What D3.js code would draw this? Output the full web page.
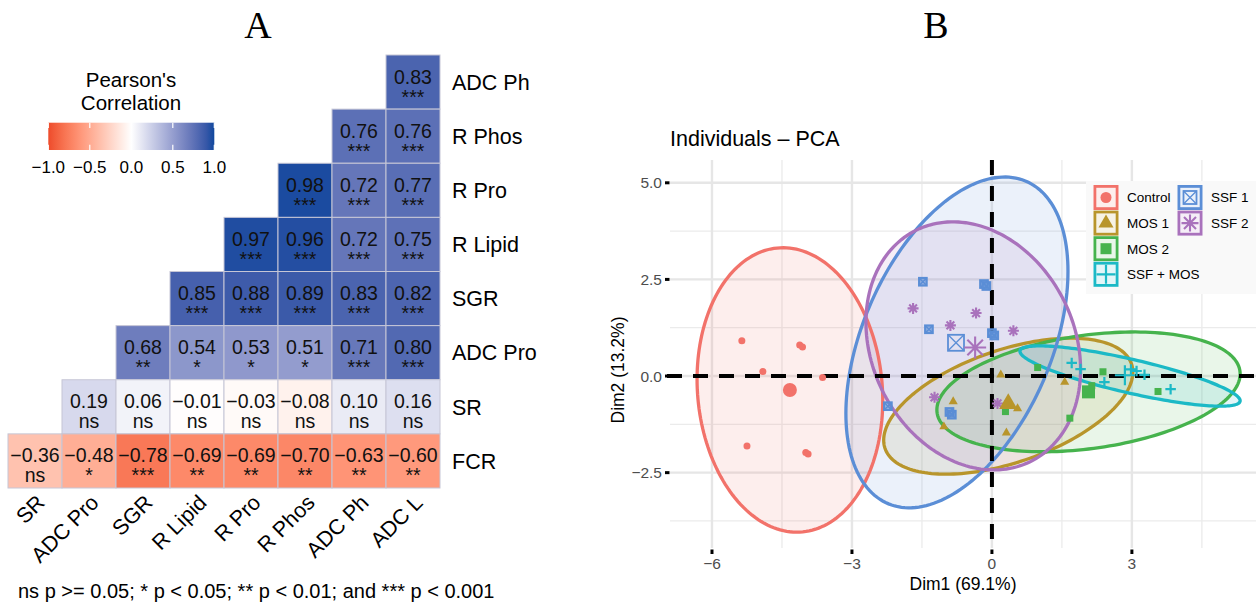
<!DOCTYPE html>
<html>
<head>
<meta charset="utf-8">
<script src="https://cdn.jsdelivr.net/npm/d3@7"></script>
<style>
  body { margin: 0; background: #fff; }
  svg { display: block; }
</style>
</head>
<body>
<div id="chart"></div>
<script>
//
// panel A data: correlation matrix (lower triangle, rows top to bottom)
//
var hmCols = ['SR', 'ADC Pro', 'SGR', 'R Lipid', 'R Pro', 'R Phos', 'ADC Ph', 'ADC L']
var hmRows = ['ADC Ph', 'R Phos', 'R Pro', 'R Lipid', 'SGR', 'ADC Pro', 'SR', 'FCR']
var corrR = [
  [0.83],
  [0.76, 0.76],
  [0.98, 0.72, 0.77],
  [0.97, 0.96, 0.72, 0.75],
  [0.85, 0.88, 0.89, 0.83, 0.82],
  [0.68, 0.54, 0.53, 0.51, 0.71, 0.80],
  [0.19, 0.06, -0.01, -0.03, -0.08, 0.10, 0.16],
  [-0.36, -0.48, -0.78, -0.69, -0.69, -0.70, -0.63, -0.60]
]
var corrSig = [
  ['***'],
  ['***', '***'],
  ['***', '***', '***'],
  ['***', '***', '***', '***'],
  ['***', '***', '***', '***', '***'],
  ['**', '*', '*', '*', '***', '***'],
  ['ns', 'ns', 'ns', 'ns', 'ns', 'ns', 'ns'],
  ['ns', '*', '***', '**', '**', '**', '**', '**']
]
var legendTicks = [-1, -0.5, 0, 0.5, 1]
var footnote = 'ns p >= 0.05; * p < 0.05; ** p < 0.01; and *** p < 0.001'

//
// panel B data: PCA individuals, [Dim1, Dim2]
//
var groups = ['Control', 'MOS 1', 'MOS 2', 'SSF + MOS', 'SSF 1', 'SSF 2']
var ptsControl = [[-5.36, 0.91], [-4.12, 0.80], [-4.06, 0.75], [-4.91, 0.12], [-3.63, -0.04], [-5.25, -1.81], [-3.99, -1.98], [-3.94, -2.02]]
var ptsMos1 = [[-0.83, -0.66], [-1.03, -1.31], [0.55, -0.84], [0.31, -1.47], [0.19, 0.03], [1.56, -0.16]]
var ptsMos2 = [[0.29, -0.92], [0.98, 0.22], [2.38, 0.11], [2.14, -0.25], [1.67, -1.09], [3.56, -0.40]]
var ptsSsfMos = [[1.71, 0.34], [1.90, 0.18], [2.41, -0.16], [2.98, 0.17], [3.10, 0.13], [3.27, 0.03], [3.83, -0.34]]
var ptsSsf1 = [[-1.48, 2.44], [-0.17, 2.38], [-0.12, 2.33], [-1.35, 1.21], [0.00, 1.11], [0.05, 1.05], [-2.23, -0.78], [-0.91, -0.93], [-0.86, -1.00]]
var ptsSsf2 = [[-1.69, 1.75], [-0.34, 1.63], [-0.89, 1.31], [0.46, 1.17], [-1.23, -0.55], [0.12, -0.71]]
var groupPoints = [ptsControl, ptsMos1, ptsMos2, ptsSsfMos, ptsSsf1, ptsSsf2]
var groupMeans = [[-4.33, -0.36], [0.35, -0.72], [2.07, -0.41], [2.85, 0.02], [-0.77, 0.86], [-0.36, 0.74]]
// confidence ellipses: [cx, cy, half width, half height, correlation]
var groupEllipses = [
  [-4.33, -0.36, 1.99, 3.68, -0.075],
  [0.35, -0.78, 2.67, 1.76, 0.50],
  [2.07, -0.41, 3.25, 1.55, 0.30],
  [2.96, 0.00, 2.36, 0.78, -0.82],
  [-0.75, 0.87, 2.38, 4.28, 0.43],
  [-0.40, 0.78, 2.30, 3.21, -0.19]
]
var xLim = [-6.9, 5.66]
var yLim = [-4.45, 5.59]
var xTicks = [-6, -3, 0, 3]
var xMinor = [-4.5, -1.5, 1.5, 4.5]
var yTicks = [-2.5, 0, 2.5, 5]
var yMinor = [-3.75, -1.25, 1.25, 3.75]

//
// styles
//
var groupColors = ['#F2726A', '#B8952B', '#46B34D', '#1CB9C6', '#5B8ED6', '#A972BC']
var groupShapes = ['circle', 'triangle', 'square', 'plus', 'squarex', 'asterisk']
var sans = "'Liberation Sans', Arial, Helvetica, sans-serif"
var serif = "'Liberation Serif', 'Times New Roman', serif"

var svg = d3.select('#chart').append('svg')
  .attr('width', 1256).attr('height', 607)
  .style('font-family', sans)

//
// panel titles
//
svg.append('text').attr('x', 258).attr('y', 38).attr('text-anchor', 'middle')
  .style('font-family', serif).style('font-size', '38px').text('A')
svg.append('text').attr('x', 936).attr('y', 38).attr('text-anchor', 'middle')
  .style('font-family', serif).style('font-size', '38px').text('B')

//
// panel A: heatmap
//
var xA = d3.scaleBand().domain(hmCols).range([8, 440])
var yA = d3.scaleBand().domain(hmRows).range([55, 488])
var color = d3.scaleLinear().domain([-1, 0, 1])
  .range(['#EE4B2B', '#ffffff', '#10489E'])
  .interpolate(d3.interpolateLab)
var fmt = d3.format('.2f')

var cells = []
corrR.forEach(function(row, i) {
  var off = hmCols.length - row.length
  row.forEach(function(v, j) {
    cells.push({row: hmRows[i], col: hmCols[off + j], v: v, sig: corrSig[i][j]})
  })
})

var gA = svg.append('g')
gA.selectAll('rect').data(cells).join('rect')
  .attr('x', function(d) { return xA(d.col) })
  .attr('y', function(d) { return yA(d.row) })
  .attr('width', xA.bandwidth())
  .attr('height', yA.bandwidth())
  .attr('fill', function(d) { return color(d.v) })
  .attr('stroke', '#c6c6d6')
  .attr('stroke-width', 1)

gA.selectAll('text.val').data(cells).join('text')
  .attr('class', 'val')
  .attr('x', function(d) { return xA(d.col) + xA.bandwidth() / 2 })
  .attr('y', function(d) { return yA(d.row) + 28.5 })
  .attr('text-anchor', 'middle')
  .attr('fill', '#111')
  .style('font-size', '19.5px')
  .text(function(d) { return fmt(d.v) })

gA.selectAll('text.sig').data(cells).join('text')
  .attr('class', 'sig')
  .attr('x', function(d) { return xA(d.col) + xA.bandwidth() / 2 })
  .attr('y', function(d) { return yA(d.row) + 48.5 })
  .attr('text-anchor', 'middle')
  .attr('fill', '#111')
  .style('font-size', '19.5px')
  .text(function(d) { return d.sig })

gA.selectAll('text.rowlab').data(hmRows).join('text')
  .attr('class', 'rowlab')
  .attr('x', 452)
  .attr('y', function(d) { return yA(d) + yA.bandwidth() / 2 })
  .attr('dy', '0.36em')
  .style('font-size', '21.5px')
  .text(function(d) { return d })

gA.selectAll('text.collab').data(hmCols).join('text')
  .attr('class', 'collab')
  .attr('transform', function(d) {
    return 'translate(' + (xA(d) + xA.bandwidth() / 2 + 11) + ',504) rotate(-45)'
  })
  .attr('text-anchor', 'end')
  .style('font-size', '21.5px')
  .text(function(d) { return d })

svg.append('text').attr('x', 18).attr('y', 598)
  .style('font-size', '20px').text(footnote)

//
// panel A: colour legend
//
var xL = d3.scaleLinear().domain([-1, 1]).range([48.3, 214.3])
var grad = svg.append('defs').append('linearGradient').attr('id', 'corrgrad')
d3.range(0, 1.0001, 0.05).forEach(function(t) {
  grad.append('stop').attr('offset', (t * 100) + '%').attr('stop-color', color(-1 + 2 * t))
})
svg.append('text').attr('x', 131).attr('y', 87).attr('text-anchor', 'middle')
  .style('font-size', '20.5px').text("Pearson's")
svg.append('text').attr('x', 131).attr('y', 110).attr('text-anchor', 'middle')
  .style('font-size', '20.5px').text('Correlation')
svg.append('rect').attr('x', xL(-1)).attr('y', 122.7)
  .attr('width', xL(1) - xL(-1)).attr('height', 27.3)
  .attr('fill', 'url(#corrgrad)')
legendTicks.forEach(function(t) {
  svg.append('line').attr('x1', xL(t)).attr('x2', xL(t)).attr('y1', 122.7).attr('y2', 128)
    .attr('stroke', '#fff').attr('stroke-width', 1.2)
  svg.append('line').attr('x1', xL(t)).attr('x2', xL(t)).attr('y1', 144.7).attr('y2', 150)
    .attr('stroke', '#fff').attr('stroke-width', 1.2)
  svg.append('text').attr('x', xL(t)).attr('y', 173).attr('text-anchor', 'middle')
    .style('font-size', '17px').text(d3.format('.1f')(t))
})

//
// panel B: PCA individuals
//
var px0 = 670, px1 = 1256, py0 = 160, py1 = 548
var xB = d3.scaleLinear().domain(xLim).range([px0, px1])
var yB = d3.scaleLinear().domain(yLim).range([py1, py0])
var gB = svg.append('g')

svg.select('defs').append('clipPath').attr('id', 'plotclip')
  .append('rect').attr('x', px0).attr('y', py0).attr('width', px1 - px0).attr('height', py1 - py0)

// grid
gB.selectAll('line.xminor').data(xMinor).join('line')
  .attr('x1', function(d) { return xB(d) }).attr('x2', function(d) { return xB(d) })
  .attr('y1', py0).attr('y2', py1).attr('stroke', '#ebebeb').attr('stroke-width', 1.3)
gB.selectAll('line.yminor').data(yMinor).join('line')
  .attr('y1', function(d) { return yB(d) }).attr('y2', function(d) { return yB(d) })
  .attr('x1', px0).attr('x2', px1).attr('stroke', '#ebebeb').attr('stroke-width', 1.3)
gB.selectAll('line.xmajor').data(xTicks).join('line')
  .attr('x1', function(d) { return xB(d) }).attr('x2', function(d) { return xB(d) })
  .attr('y1', py0).attr('y2', py1).attr('stroke', '#e6e6e6').attr('stroke-width', 2.4)
gB.selectAll('line.ymajor').data(yTicks).join('line')
  .attr('y1', function(d) { return yB(d) }).attr('y2', function(d) { return yB(d) })
  .attr('x1', px0).attr('x2', px1).attr('stroke', '#e6e6e6').attr('stroke-width', 2.4)

// ticks and tick labels
gB.selectAll('line.ytick').data(yTicks).join('line')
  .attr('x1', 665).attr('x2', 669.5)
  .attr('y1', function(d) { return yB(d) }).attr('y2', function(d) { return yB(d) })
  .attr('stroke', '#000').attr('stroke-width', 3)
gB.selectAll('text.ylab').data(yTicks).join('text')
  .attr('x', 662).attr('y', function(d) { return yB(d) }).attr('dy', '0.36em')
  .attr('text-anchor', 'end').attr('fill', '#4d4d4d').style('font-size', '15.5px')
  .text(function(d) { return d3.format('.1f')(d) })
gB.selectAll('line.xtick').data(xTicks).join('line')
  .attr('x1', function(d) { return xB(d) }).attr('x2', function(d) { return xB(d) })
  .attr('y1', 549.5).attr('y2', 554)
  .attr('stroke', '#000').attr('stroke-width', 3)
gB.selectAll('text.xlab').data(xTicks).join('text')
  .attr('x', function(d) { return xB(d) }).attr('y', 569)
  .attr('text-anchor', 'middle').attr('fill', '#4d4d4d').style('font-size', '15.5px')
  .text(function(d) { return d3.format('d')(d) })

svg.append('text').attr('x', (px0 + px1) / 2).attr('y', 590).attr('text-anchor', 'middle')
  .style('font-size', '17.5px').text('Dim1 (69.1%)')
svg.append('text').attr('transform', 'translate(624,370) rotate(-90)').attr('text-anchor', 'middle')
  .style('font-size', '17.5px').text('Dim2 (13.2%)')
svg.append('text').attr('x', 670).attr('y', 146)
  .style('font-size', '21.5px').text('Individuals \u2013 PCA')

// ellipses
var tSteps = d3.range(0, 2 * Math.PI, Math.PI / 90)
var ellLine = d3.line()
  .x(function(d) { return xB(d[0]) })
  .y(function(d) { return yB(d[1]) })
  .curve(d3.curveLinearClosed)
function ellipsePts(e) {
  return tSteps.map(function(t) {
    return [e[0] + e[2] * Math.cos(t),
            e[1] + e[3] * (e[4] * Math.cos(t) + Math.sqrt(1 - e[4] * e[4]) * Math.sin(t))]
  })
}
var gE = gB.append('g').attr('clip-path', 'url(#plotclip)')
gE.selectAll('path.efill').data(groupEllipses).join('path')
  .attr('d', function(d) { return ellLine(ellipsePts(d)) })
  .attr('fill', function(d, i) { return groupColors[i] })
  .attr('fill-opacity', 0.12)
  .attr('stroke', 'none')
gE.selectAll('path.estroke').data(groupEllipses).join('path')
  .attr('d', function(d) { return ellLine(ellipsePts(d)) })
  .attr('fill', 'none')
  .attr('stroke', function(d, i) { return groupColors[i] })
  .attr('stroke-width', 3.3)

// reference lines
gB.append('line').attr('x1', px0 - 3).attr('x2', px1).attr('y1', yB(0)).attr('y2', yB(0))
  .attr('stroke', '#000').attr('stroke-width', 4).attr('stroke-dasharray', '15,11')
gB.append('line').attr('x1', xB(0)).attr('x2', xB(0)).attr('y1', py0).attr('y2', py1)
  .attr('stroke', '#000').attr('stroke-width', 4).attr('stroke-dasharray', '15,11')

// point shapes
function drawShape(g, shape, cx, cy, s, col) {
  var h = s / 2
  if (shape === 'circle') {
    g.append('circle').attr('cx', cx).attr('cy', cy).attr('r', h).attr('fill', col)
  } else if (shape === 'triangle') {
    var r = s * 0.62
    g.append('path').attr('d', 'M' + cx + ',' + (cy - r) + 'L' + (cx + r * 0.866) + ',' + (cy + r * 0.5) +
      'L' + (cx - r * 0.866) + ',' + (cy + r * 0.5) + 'Z').attr('fill', col)
  } else if (shape === 'square') {
    g.append('rect').attr('x', cx - h).attr('y', cy - h).attr('width', s).attr('height', s).attr('fill', col)
  } else if (shape === 'plus') {
    g.append('path').attr('d', 'M' + (cx - h) + ',' + cy + 'H' + (cx + h) + 'M' + cx + ',' + (cy - h) + 'V' + (cy + h))
      .attr('stroke', col).attr('stroke-width', Math.max(2.2, s / 9)).attr('fill', 'none')
  } else if (shape === 'squarex') {
    var sw = s < 10 ? 2.2 : Math.max(1.8, s / 9)
    g.append('rect').attr('x', cx - h).attr('y', cy - h).attr('width', s).attr('height', s)
      .attr('fill', s < 10 ? col : 'none').attr('fill-opacity', 0.55)
      .attr('stroke', col).attr('stroke-width', sw)
    g.append('path').attr('d', 'M' + (cx - h) + ',' + (cy - h) + 'L' + (cx + h) + ',' + (cy + h) +
      'M' + (cx + h) + ',' + (cy - h) + 'L' + (cx - h) + ',' + (cy + h))
      .attr('stroke', col).attr('stroke-width', sw * 0.7).attr('fill', 'none')
  } else if (shape === 'asterisk') {
    var d = h * 0.707
    g.append('path').attr('d', 'M' + (cx - h) + ',' + cy + 'H' + (cx + h) + 'M' + cx + ',' + (cy - h) + 'V' + (cy + h) +
      'M' + (cx - d) + ',' + (cy - d) + 'L' + (cx + d) + ',' + (cy + d) +
      'M' + (cx + d) + ',' + (cy - d) + 'L' + (cx - d) + ',' + (cy + d))
      .attr('stroke', col).attr('stroke-width', Math.max(2.1, s / 11)).attr('fill', 'none')
  }
}
var smallSize = {circle: 7, triangle: 8.5, square: 7, plus: 10.5, squarex: 7.5, asterisk: 11}
var bigSize = {circle: 14, triangle: 17, square: 13, plus: 20, squarex: 16, asterisk: 22}

var gP = gB.append('g')
groupPoints.forEach(function(pts, i) {
  var sh = groupShapes[i]
  pts.forEach(function(p) {
    drawShape(gP, sh, xB(p[0]), yB(p[1]), smallSize[sh], groupColors[i])
  })
})
groupMeans.forEach(function(m, i) {
  var sh = groupShapes[i]
  drawShape(gP, sh, xB(m[0]), yB(m[1]), bigSize[sh], groupColors[i])
})

// legend
var gLeg = svg.append('g')
gLeg.append('rect').attr('x', 1086).attr('y', 181).attr('width', 170).attr('height', 113)
  .attr('fill', '#f9f9f9')
var legendSize = {circle: 11, triangle: 14, square: 11, plus: 19, squarex: 13, asterisk: 17}
groups.forEach(function(name, i) {
  var col = i < 4 ? 0 : 1
  var row = i < 4 ? i : i - 4
  var kx = col === 0 ? 1093.5 : 1177.5
  var ky = 185 + row * 25.6
  gLeg.append('rect').attr('x', kx).attr('y', ky).attr('width', 25).attr('height', 25)
    .attr('fill', '#fff')
  gLeg.append('rect').attr('x', kx + 1.4).attr('y', ky + 1.4).attr('width', 22.2).attr('height', 22.2)
    .attr('fill', groupColors[i]).attr('fill-opacity', 0.12)
    .attr('stroke', groupColors[i]).attr('stroke-width', 2.8)
  drawShape(gLeg, groupShapes[i], kx + 12.5, ky + 12.5, legendSize[groupShapes[i]], groupColors[i])
  gLeg.append('text').attr('x', kx + 33.5).attr('y', ky + 12.5).attr('dy', '0.36em')
    .style('font-size', '13.5px').text(name)
})
</script>
</body>
</html>
